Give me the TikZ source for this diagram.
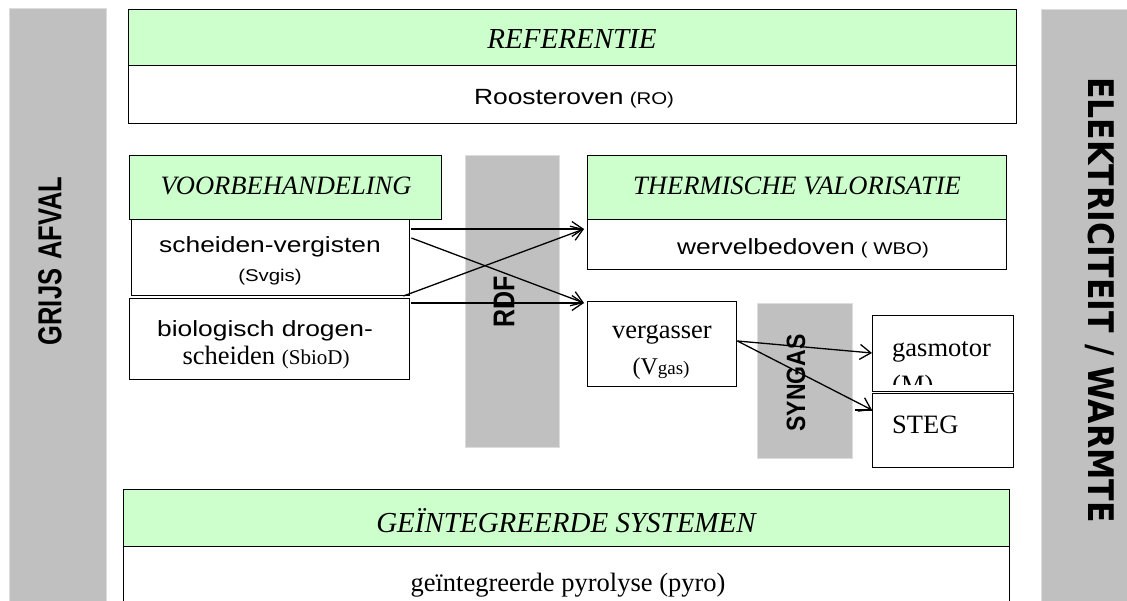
\documentclass[tikz,border=0pt]{standalone}
\usepackage{graphicx}
\usepackage{fontspec}
\setmainfont{Liberation Serif}
\setsansfont{Liberation Sans}
\newfontfamily\widesans{DejaVu Sans}
\usetikzlibrary{arrows.meta,calc}

\definecolor{mint}{HTML}{CCFFCC}
\definecolor{bandgray}{HTML}{C0C0C0}
\definecolor{bandedge}{HTML}{DDDDDD}

% text helpers
\newcommand\hstretch[1]{\scalebox{1.2}[1]{#1}}
\newcommand\sansbig{\sffamily\fontsize{22}{26}\selectfont}
\newcommand\sanssmall{\sffamily\fontsize{17}{20}\selectfont}

\begin{document}
\begin{tikzpicture}[x=1pt,y=-1pt,
  greenbox/.style={draw=black, line width=1.4pt, fill=mint, inner sep=0pt, anchor=north west},
  whitebox/.style={draw=black, line width=1.4pt, fill=white, inner sep=0pt, anchor=north west},
  band/.style={draw=bandedge, line width=1pt, fill=bandgray, inner sep=0pt, anchor=north west},
  title/.style={font=\fontsize{26.5}{30}\selectfont\itshape, anchor=base, inner sep=0pt},
  serif/.style={font=\fontsize{26.5}{30}\selectfont, anchor=base, inner sep=0pt},
  sans/.style={anchor=base, inner sep=0pt},
  bandlabel/.style={font=\sffamily\bfseries, inner sep=0pt},
  flow/.style={line width=1.3pt, -{Straight Barb[length=11pt,width=15pt,line width=1.3pt]}}
]
\useasboundingbox (0,0) rectangle (1127,601);
\clip (0,0) rectangle (1127,601);

% side bands
\node[band, minimum width=97, minimum height=610] (afval) at (9,8) {};
\node[band, minimum width=100, minimum height=610] (energie) at (1041,9) {};
\node[bandlabel, rotate=90, font=\sffamily\bfseries\fontsize{25.5}{30}\selectfont] (afval-t) at (50,261)
  {\scalebox{1}[1.3]{GRIJS\hspace{9pt}AFVAL}};
\node[bandlabel, rotate=-90, font=\widesans\bfseries\fontsize{31.5}{34}\selectfont] (energie-t) at (1100,300)
  {\scalebox{1}[1.12]{ELEKTRICITEIT / WARMTE}};

% reference
\node[greenbox, minimum width=888, minimum height=56] (refhead) at (128,9) {};
\node[whitebox, minimum width=888, minimum height=58] (ro) at (128,65) {};
\node[title, font=\fontsize{29}{32}\selectfont\itshape] (refhead-t) at (572,49) {REFERENTIE};
\node[sans] (ro-t) at (574,105) {\sansbig\hstretch{Roosteroven} \sanssmall\hstretch{(RO)}};

% pretreatment
\node[greenbox, minimum width=312, minimum height=64] (prehead) at (129,155) {};
\node[whitebox, minimum width=278, minimum height=76] (svgis) at (131,219) {};
\node[whitebox, minimum width=280, minimum height=81] (sbiod) at (129,298) {};
\node[title] (prehead-t) at (286,195) {VOORBEHANDELING};
\node[sans] (svgis-t1) at (270,253) {\sansbig\hstretch{scheiden-vergisten}};
\node[sans] (svgis-t2) at (270,282) {\sanssmall\hstretch{(Svgis)}};
\node[sans] (sbiod-t1) at (265,337) {\sansbig\hstretch{biologisch drogen-}};
\node[serif] (sbiod-t2) at (266,365) {scheiden {\fontsize{21}{24}\selectfont(SbioD)}};

% RDF band
\node[band, minimum width=94, minimum height=292] (rdf) at (465,155) {};
\node[bandlabel, rotate=90, font=\sffamily\bfseries\fontsize{25}{30}\selectfont] (rdf-t) at (504,302)
  {\scalebox{1}[1.2]{RDF}};

% thermal valorisation
\node[greenbox, minimum width=419, minimum height=64] (thermhead) at (587,155) {};
\node[whitebox, minimum width=419, minimum height=50] (wbo) at (587,219) {};
\node[title] (thermhead-t) at (797,195) {THERMISCHE VALORISATIE};
\node[sans] (wbo-t) at (803,255) {\sansbig\hstretch{wervelbedoven} \sanssmall\hstretch{( WBO)}};

\node[whitebox, minimum width=149, minimum height=85] (vgas) at (587,301) {};
\node[serif] (vgas-t1) at (662,339) {vergasser};
\node[serif] (vgas-t2) at (661,374) {{\fontsize{24}{28}\selectfont(V}{\fontsize{19}{22}\selectfont gas)}};

% syngas band
\node[band, minimum width=95, minimum height=155] (syngas) at (757,303) {};
\node[bandlabel, rotate=90, font=\sffamily\bfseries\fontsize{23}{28}\selectfont] (syngas-t) at (796,383)
  {\scalebox{1}[1.15]{SYNGAS}};

% engines
\node[whitebox, minimum width=141, minimum height=76] (motor) at (872,315) {};
\node[whitebox, minimum width=141, minimum height=74] (steg) at (872,393) {};
\begin{scope}
  \clip (motor.north west) rectangle ($(motor.south east)+(0,-8)$);
  \node[serif, anchor=base west] (motor-t1) at (892,357) {gasmotor};
  \node[serif, anchor=base west] (motor-t2) at (892,393) {(M)};
\end{scope}
\node[serif, anchor=base west] (steg-t) at (892,433) {STEG};

% integrated systems
\node[greenbox, minimum width=886, minimum height=57] (inthead) at (123,489) {};
\node[whitebox, minimum width=886, minimum height=70] (pyro) at (123,546) {};
\node[title, font=\fontsize{29}{32}\selectfont\itshape] (inthead-t) at (566,532) {GEÏNTEGREERDE SYSTEMEN};
\node[serif] (pyro-t) at (568,591) {geïntegreerde pyrolyse (pyro)};

% connector end points
\coordinate (svgis-out1) at ($(svgis.north east)+(1,10)$);
\coordinate (svgis-out2) at ($(svgis.north east)+(1,19)$);
\coordinate (sbiod-out1) at ($(sbiod.north east)+(-7,-2)$);
\coordinate (sbiod-out2) at ($(sbiod.north east)+(1,5)$);
\coordinate (wbo-in) at ($(wbo.north west)+(-3,10)$);
\coordinate (vgas-in) at ($(vgas.north west)+(-3,2)$);
\coordinate (vgas-out) at ($(vgas.north east)+(0,40)$);
\coordinate (motor-in) at ($(motor.north west)+(0,38)$);
\coordinate (steg-in) at ($(steg.north west)+(0,17)$);
\coordinate (steg-stub) at ($(steg.north west)+(-17,17)$);

% flows
\draw[flow] (svgis-out1) -- (wbo-in);
\draw[flow] (svgis-out2) -- (vgas-in);
\draw[flow] (sbiod-out1) -- (wbo-in);
\draw[flow] (sbiod-out2) -- (vgas-in);
\draw[flow] (vgas-out) -- (motor-in);
\draw[flow] (vgas-out) -- (steg-in);
\draw[line width=1.3pt] (steg-stub) -- (steg-in);
\end{tikzpicture}
\end{document}
